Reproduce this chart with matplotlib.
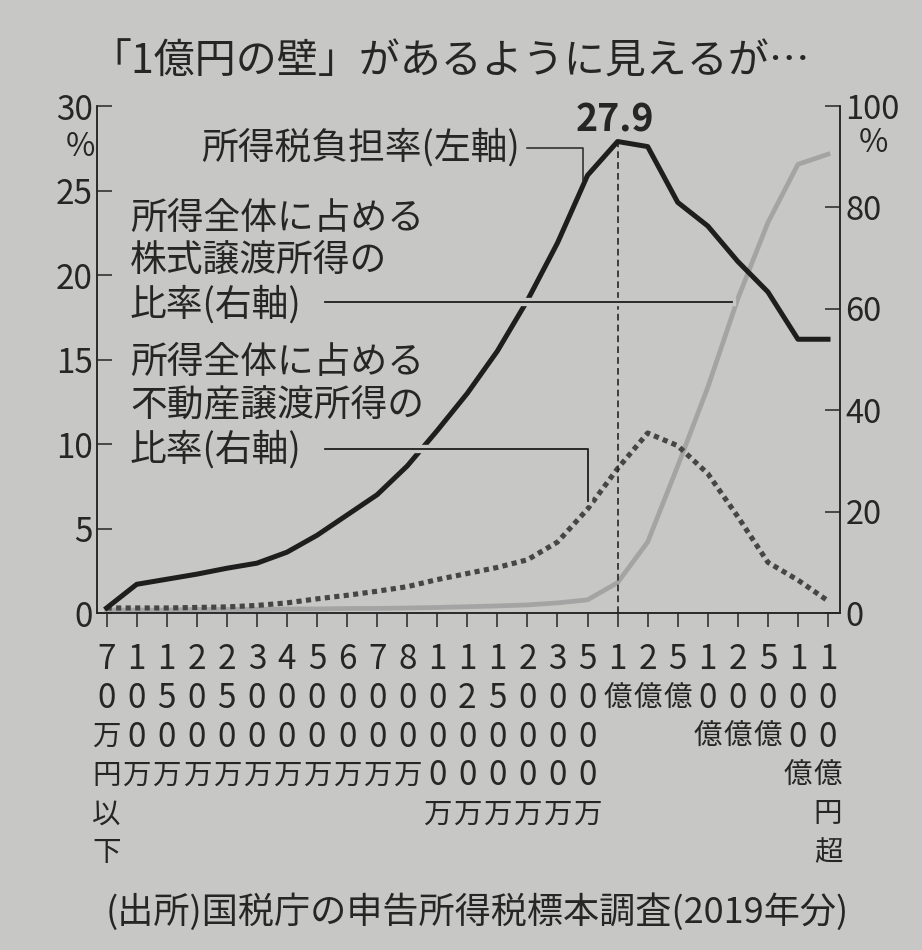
import numpy as np
import matplotlib.pyplot as plt
import matplotlib.patheffects as pe
from matplotlib.transforms import blended_transform_factory

plt.rcParams['font.family'] = ['Noto Sans CJK JP', 'DejaVu Sans']

# 所得階級(上限)
categories = ["70万円以下", "100万", "150万", "200万", "250万", "300万", "400万",
              "500万", "600万", "700万", "800万", "1000万", "1200万", "1500万",
              "2000万", "3000万", "5000万", "1億", "2億", "5億", "10億", "20億",
              "50億", "100億", "100億円超"]
# 所得税負担率 (左軸, %)
tax_rate = [0.3, 1.7, 2.0, 2.3, 2.65, 2.95, 3.6, 4.6, 5.8, 7.0, 8.7, 10.8, 13.0,
            15.5, 18.5, 21.9, 25.9, 27.9, 27.6, 24.3, 22.9, 20.8, 19.0, 16.2, 16.2]
# 株式譲渡所得の比率 (右軸, %)
stock_ratio = [0.6, 0.6, 0.6, 0.7, 0.7, 0.7, 0.8, 0.8, 0.9, 0.9, 1.0, 1.1, 1.25,
               1.4, 1.6, 2.0, 2.6, 6.0, 14.0, 29.0, 44.5, 62.0, 77.0, 88.5, 90.5]
# 不動産譲渡所得の比率 (右軸, %)
realestate_ratio = [1.0, 1.0, 1.0, 1.1, 1.2, 1.5, 2.0, 2.8, 3.5, 4.3, 5.2, 6.6,
                    7.8, 9.0, 10.5, 14.0, 20.5, 28.5, 35.5, 33.0, 27.5, 19.0,
                    10.0, 6.5, 2.4]
left_ticks = [0, 5, 10, 15, 20, 25, 30]
right_ticks = [0, 20, 40, 60, 80, 100]
peak_idx = 17

title = "「1億円の壁」があるように見えるが…"
source = "(出所)国税庁の申告所得税標本調査(2019年分)"
label_tax = "所得税負担率(左軸)"
label_stock = ["所得全体に占める", "株式譲渡所得の", "比率(右軸)"]
label_estate = ["所得全体に占める", "不動産譲渡所得の", "比率(右軸)"]

bg = '#c7c7c5'
ink = '#262626'

fig = plt.figure(figsize=(9.22, 9.5), dpi=100, facecolor=bg)
ax = fig.add_axes([0.1052, 0.3547, 0.8059, 0.5337])
ax2 = ax.twinx()
ax.set_zorder(ax2.get_zorder() + 1)
ax.patch.set_visible(False)
ax2.patch.set_visible(False)

x = np.arange(len(categories))
ax.set_xlim(-0.32, 24.4)
ax.set_ylim(0, 30)
ax2.set_ylim(0, 100)

ax2.plot(x, stock_ratio, color='#a4a4a4', lw=3.4, solid_joinstyle='round')
ax2.plot(x, realestate_ratio, color='#464646', lw=3.7, linestyle=(0, (1.0, 0.85)))
ax.plot(x, tax_rate, color='#1e1e1e', lw=3.6, zorder=4)

# 27.9 の縦の破線
ax.plot([peak_idx, peak_idx], [0, tax_rate[peak_idx]], color=ink, lw=1.2,
        linestyle=(0, (4, 2.5)), zorder=3)
ax.text(16.9, 29.2, f"{tax_rate[peak_idx]}", ha='center', va='center',
        fontsize=27, fontweight='bold', color=ink)

for a in (ax, ax2):
    a.spines['top'].set_visible(False)
    for s in ('left', 'right', 'bottom'):
        a.spines[s].set_color(ink)
        a.spines[s].set_linewidth(1.1)

ax.set_yticks(left_ticks)
ax.set_yticklabels([str(t) for t in left_ticks])
ax2.set_yticks(right_ticks)
ax2.set_yticklabels([str(t) for t in right_ticks])
ax.tick_params(axis='y', direction='in', length=11, width=1.1, labelsize=24,
               pad=3, colors=ink)
ax2.tick_params(axis='y', direction='in', length=11, width=1.1, labelsize=23.5,
                pad=4, colors=ink)
ax.set_xticks(x)
ax.tick_params(axis='x', direction='out', length=10, width=1.1, colors=ink,
               labelbottom=False)

# % の単位
tl = blended_transform_factory(ax.transAxes, ax.transData)
ax.annotate('%', xy=(0, 27.6), xycoords=tl, xytext=(-12, 0),
            textcoords='offset points', ha='center', va='center',
            fontsize=23, color=ink)
tr = blended_transform_factory(ax2.transAxes, ax2.transData)
ax2.annotate('%', xy=(1, 92.7), xycoords=tr, xytext=(24, 0),
             textcoords='offset points', ha='center', va='center',
             fontsize=23, color=ink)

# 縦書きの階級ラベル
tb = blended_transform_factory(ax.transData, ax.transAxes)
for i, lab in enumerate(categories):
    for j, ch in enumerate(lab):
        size = 24 if ch.isdigit() else 20.5
        ax.annotate(ch, xy=(i, 0), xycoords=tb, xytext=(0, -33.8 - 27.8 * j),
                    textcoords='offset points', ha='center', va='center',
                    fontsize=size, color=ink, annotation_clip=False)

# 説明と引き出し線
halo = [pe.withStroke(linewidth=6, foreground=bg)]
ax.text(13.75, 27.5, label_tax, ha='right', va='center', fontsize=26.5, color=ink)
ax.plot([14.0, 15.85, 15.85], [27.5, 27.5, 25.6], color=ink, lw=1.1, zorder=5)

for yy, line in zip([23.37, 20.89, 18.22], label_stock):
    ax.text(0.78, yy, line, ha='left', va='center', fontsize=26.5, color=ink)
ax.plot([7.27, 20.8], [18.4, 18.4], color=ink, lw=1.1, zorder=5,
        path_effects=halo + [pe.Normal()])

for yy, line in zip([14.85, 12.31, 9.64], label_estate):
    ax.text(0.78, yy, line, ha='left', va='center', fontsize=26.5, color=ink)
ax.plot([7.27, 16.01, 16.01], [9.7, 9.7, 6.6], color=ink, lw=1.1, zorder=5,
        path_effects=halo + [pe.Normal()])

fig.text(0.488, 1 - 62 / 950, title, ha='center', va='center', fontsize=29.5,
         color=ink)
fig.text(0.518, 1 - 912 / 950, source, ha='center', va='center', fontsize=26,
         color=ink)

fig.savefig('out.png', dpi=100, facecolor=bg)
